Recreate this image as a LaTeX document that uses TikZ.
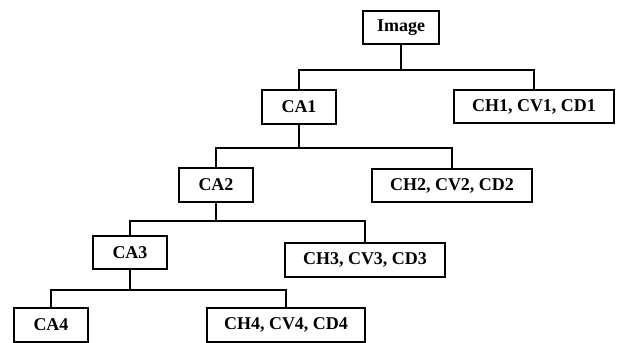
\documentclass[tikz,border=0pt]{standalone}
\usepackage{fontspec}
\setmainfont{Liberation Serif}
\tikzset{
  box/.style={draw, line width=1.3pt, inner sep=0pt, minimum height=0.84cm,
    font=\fontsize{12.8}{14}\selectfont\bfseries},
  cabox/.style={box, minimum width=1.83cm},
  chbox/.style={box, minimum width=4cm},
  link/.style={line width=1.3pt}
}
\begin{document}
\begin{tikzpicture}[x=0.025cm, y=-0.025cm]
      \useasboundingbox (0,0) rectangle (618,342);
      \node[box, minimum width=1.9cm] (img) at (401,27.5) {Image};
      \node[cabox] (ca1) at (299,107) {CA1};
      \node[chbox] (ch1) at (534,106.5) {CH1, CV1, CD1};
      \node[cabox] (ca2) at (216,185) {CA2};
      \node[chbox] (ch2) at (452,185.5) {CH2, CV2, CD2};
      \node[cabox] (ca3) at (130,252.5) {CA3};
      \node[chbox] (ch3) at (365,260) {CH3, CV3, CD3};
      \node[cabox] (ca4) at (51,325) {CA4};
      \node[chbox, minimum width=3.93cm] (ch4) at (286,325) {CH4, CV4, CD4};
      % level 1
      \draw[link] (img.south) -- ++(0,25) coordinate (j1);
      \draw[link] (ca1.north) |- (j1) -| (ch1.north);
      % level 2
      \draw[link] (ca1.south) -- ++(0,23) coordinate (j2);
      \draw[link] (ca2.north) |- (j2) -| (ch2.north);
      % level 3
      \draw[link] (ca2.south) -- ++(0,18) coordinate (j3);
      \draw[link] (ca3.north) |- (j3) -| (ch3.north);
      % level 4
      \draw[link] (ca3.south) -- ++(0,19.5) coordinate (j4);
      \draw[link] (ca4.north) |- (j4) -| (ch4.north);
\end{tikzpicture}
\end{document}
